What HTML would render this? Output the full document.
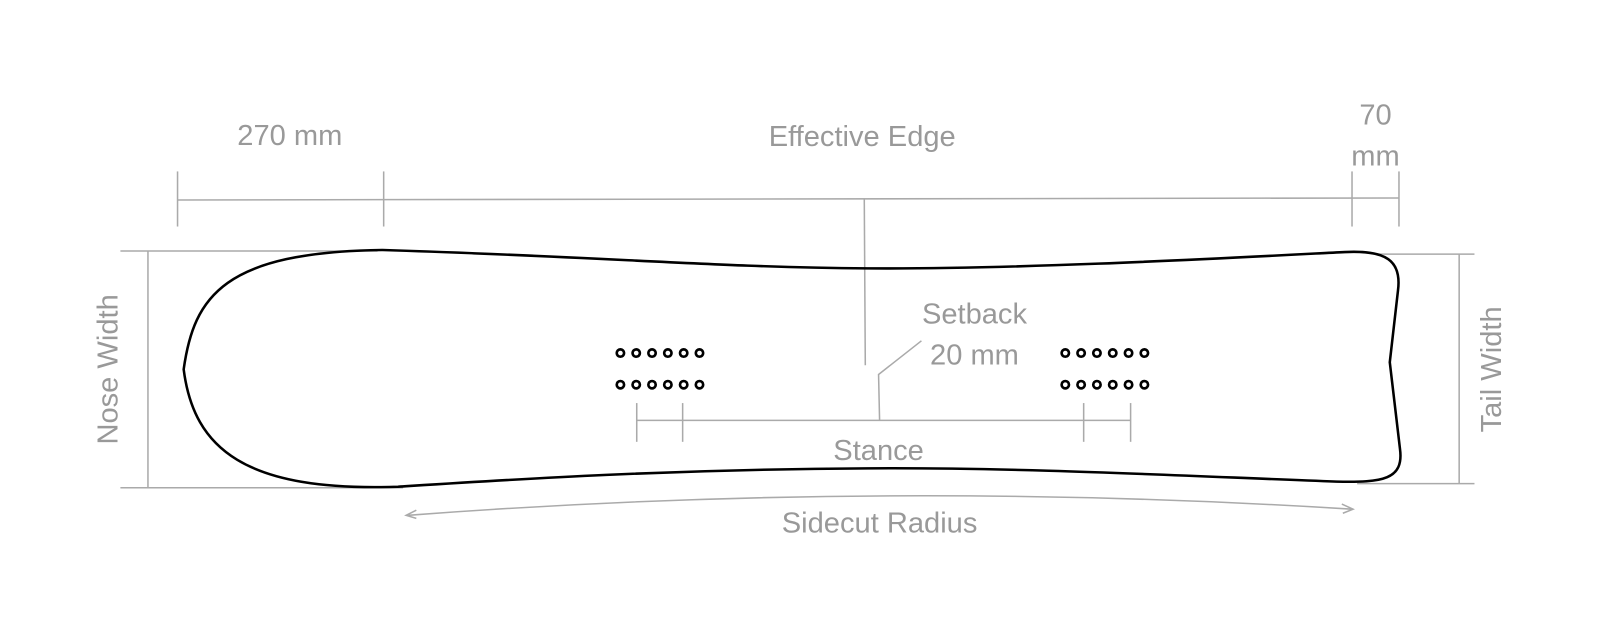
<!DOCTYPE html>
<html><head><meta charset="utf-8"><style>
html,body{margin:0;padding:0;background:#fff;}
svg{display:block;}
text{font-family:"Liberation Sans",sans-serif;fill:#999;font-size:28.5px;}
</style></head><body>
<svg width="1600" height="640" viewBox="0 0 1600 640" xmlns="http://www.w3.org/2000/svg">
<g transform="scale(1.0204)">
<g stroke="#aaa" stroke-width="1.5" fill="none">
<line x1="174" y1="196" x2="1371" y2="194"/>
<line x1="174" y1="168" x2="174" y2="222"/>
<line x1="376" y1="168" x2="376" y2="222"/>
<line x1="1325" y1="168" x2="1325" y2="222"/>
<line x1="1371" y1="168" x2="1371" y2="222"/>
<line x1="847" y1="195" x2="848" y2="358"/>
<line x1="118" y1="246" x2="370" y2="246"/>
<line x1="118" y1="478" x2="395" y2="478"/>
<line x1="145" y1="246" x2="145" y2="478"/>
<line x1="1350" y1="249" x2="1445" y2="249"/>
<line x1="1330" y1="474" x2="1445" y2="474"/>
<line x1="1430" y1="249" x2="1430" y2="474"/>
<line x1="624" y1="412" x2="1108" y2="412"/>
<line x1="624" y1="395" x2="624" y2="433"/>
<line x1="669" y1="395" x2="669" y2="433"/>
<line x1="1062" y1="395" x2="1062" y2="433"/>
<line x1="1108" y1="395" x2="1108" y2="433"/>
<polyline points="862,412 861,367 903,334"/>
<path d="M400 505 Q862 470 1325 499"/>
<path d="M408 500 L398 505 L408 508" stroke-width="1.5"/>
<path d="M1315 494 L1326 499 L1316 503" stroke-width="1.5"/>
</g>
<path d="M375 245 C600 252,700 262,850 263 C1000 264,1200 253,1318 247 C1358 245,1374 255,1370 285 L1362 355 L1372 440 C1376 470,1355 473,1310 472 C1150 466,1000 458,850 459 C650 460,500 470,390 477 C240 482,190 440,180 362 C190 290,220 247,375 245 Z" fill="none" stroke="#000" stroke-width="2.5"/>
<g fill="none" stroke="#000" stroke-width="2.6">
<circle cx="608" cy="346" r="3.6"/><circle cx="623.5" cy="346" r="3.6"/><circle cx="639" cy="346" r="3.6"/><circle cx="654.5" cy="346" r="3.6"/><circle cx="670" cy="346" r="3.6"/><circle cx="685.5" cy="346" r="3.6"/>
<circle cx="608" cy="377" r="3.6"/><circle cx="623.5" cy="377" r="3.6"/><circle cx="639" cy="377" r="3.6"/><circle cx="654.5" cy="377" r="3.6"/><circle cx="670" cy="377" r="3.6"/><circle cx="685.5" cy="377" r="3.6"/>
<circle cx="1044" cy="346" r="3.6"/><circle cx="1059.5" cy="346" r="3.6"/><circle cx="1075" cy="346" r="3.6"/><circle cx="1090.5" cy="346" r="3.6"/><circle cx="1106" cy="346" r="3.6"/><circle cx="1121.5" cy="346" r="3.6"/>
<circle cx="1044" cy="377" r="3.6"/><circle cx="1059.5" cy="377" r="3.6"/><circle cx="1075" cy="377" r="3.6"/><circle cx="1090.5" cy="377" r="3.6"/><circle cx="1106" cy="377" r="3.6"/><circle cx="1121.5" cy="377" r="3.6"/>
</g>
<text x="284" y="142" text-anchor="middle">270 mm</text>
<text x="845" y="143" text-anchor="middle">Effective Edge</text>
<text x="1348" y="122" text-anchor="middle">70</text>
<text x="1348" y="162" text-anchor="middle">mm</text>
<text x="955" y="317" text-anchor="middle">Setback</text>
<text x="955" y="357" text-anchor="middle">20 mm</text>
<text x="861" y="451" text-anchor="middle">Stance</text>
<text x="862" y="522" text-anchor="middle">Sidecut Radius</text>
<text transform="translate(115,362) rotate(-90)" text-anchor="middle">Nose Width</text>
<text transform="translate(1471,362) rotate(-90)" text-anchor="middle">Tail Width</text>
</g>
</svg>
</body></html>
